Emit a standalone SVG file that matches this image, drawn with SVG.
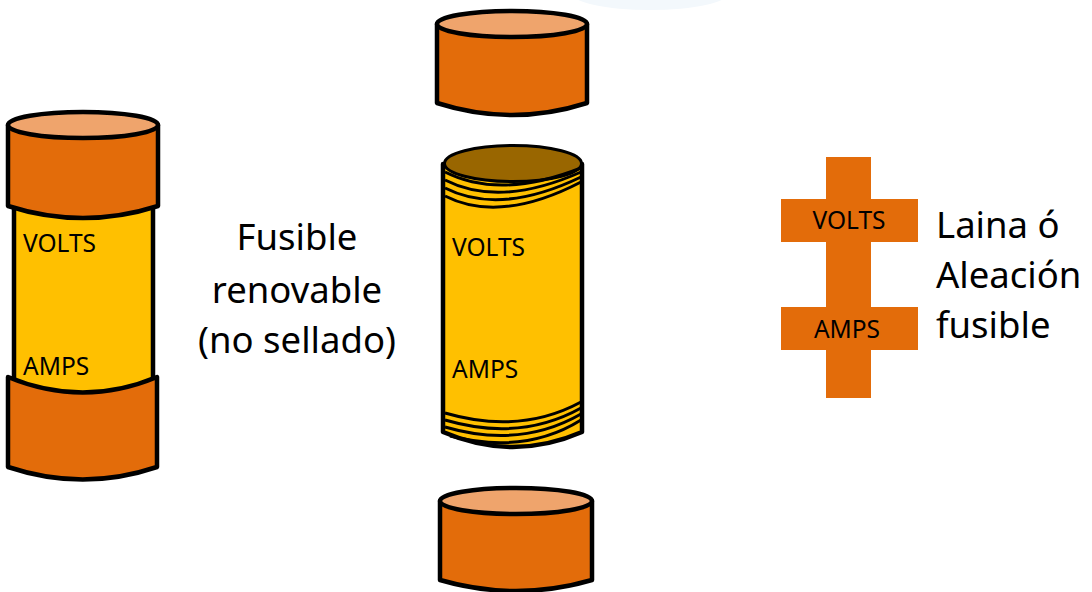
<svg xmlns="http://www.w3.org/2000/svg" width="1092" height="592" viewBox="0 0 1092 592">
  <style>
    .cap { fill: #E36C0A; stroke: #000; stroke-width: 4.5; stroke-linejoin: round; }
    .lid { fill: #EFA46C; stroke: #000; stroke-width: 4.5; }
    .body { fill: #FFC000; stroke: #000; stroke-width: 4.5; stroke-linejoin: round; }
    .dark { fill: #996600; stroke: #000; stroke-width: 3; }
    .ring { fill: none; stroke: #000; stroke-width: 3; }
    .plate { fill: #E36C0A; }
    .lbl { font-family: "Noto Sans", "Open Sans", sans-serif; font-size: 24.5px; fill: #000; }
    .big { font-family: "Noto Sans", "Open Sans", sans-serif; font-size: 36.5px; fill: #000; }
  </style>

  <!-- pale backdrop shape along the top edge -->
  <ellipse cx="650" cy="-8" rx="80" ry="18" fill="#F3F8FC"/>

  <!-- renewable fuse, assembled -->
  <g id="fuse-assembled">
    <path class="body" d="M14 206 L14 400 L153 400 L153 206 Z"/>
    <g id="fuse-assembled-top-cap">
      <path class="cap" d="M8 125 L8 206 Q83 230 158 206 L158 125 Z"/>
      <ellipse class="lid" cx="83" cy="125" rx="75" ry="13"/>
    </g>
    <g id="fuse-assembled-bottom-cap">
      <path class="cap" d="M8 377 Q83 408 157 377 L157 467 Q83 492 8 467 Z"/>
    </g>
    <text class="lbl" x="23" y="252">VOLTS</text>
    <text class="lbl" x="23" y="375">AMPS</text>
  </g>

  <!-- caption -->
  <g id="caption-fuse">
    <text class="big" x="297" y="250" text-anchor="middle">Fusible</text>
    <text class="big" x="297" y="303" text-anchor="middle">renovable</text>
    <text class="big" x="297" y="353" text-anchor="middle">(no sellado)</text>
  </g>

  <!-- exploded view: upper cap -->
  <g id="exploded-top-cap">
    <path class="cap" d="M437 24 L437 103 Q512 127 587 103 L587 24 Z"/>
    <ellipse class="lid" cx="512" cy="24" rx="75" ry="13"/>
  </g>

  <!-- exploded view: fibre tube -->
  <g id="exploded-tube">
    <path class="body" d="M443 164 L443 432 Q513 462 582 432 L582 164 Z"/>
    <ellipse class="dark" cx="513" cy="163.5" rx="68.5" ry="18"/>
    <!-- threads near the top -->
    <path class="ring" d="M445 172 Q500 200 581 168"/>
    <path class="ring" d="M445 180 Q500 208 581 172"/>
    <path class="ring" d="M445 188 Q500 216 581 177"/>
    <path class="ring" d="M445 196 Q500 224 581 182"/>
    <!-- threads near the bottom -->
    <path class="ring" d="M445 413 Q520 435 581 402"/>
    <path class="ring" d="M445 420 Q520 442 581 408"/>
    <path class="ring" d="M445 427 Q520 449 581 414"/>
    <path class="ring" d="M450 436 Q525 455 581 420"/>
    <text class="lbl" x="452" y="256">VOLTS</text>
    <text class="lbl" x="452" y="378">AMPS</text>
  </g>

  <!-- exploded view: lower cap -->
  <g id="exploded-bottom-cap">
    <path class="cap" d="M440 501 L440 580 Q516 602 592 580 L592 501 Z"/>
    <ellipse class="lid" cx="516" cy="501" rx="76" ry="13"/>
  </g>

  <!-- fusible link -->
  <g id="fuse-link">
    <rect class="plate" x="826" y="157" width="45" height="241"/>
    <rect class="plate" x="781" y="199" width="137" height="43"/>
    <rect class="plate" x="781" y="307" width="137" height="43"/>
    <text class="lbl" x="849" y="229" text-anchor="middle">VOLTS</text>
    <text class="lbl" x="847" y="338" text-anchor="middle">AMPS</text>
  </g>

  <g id="caption-link">
    <text class="big" x="936" y="238">Laina ó</text>
    <text class="big" x="936" y="288">Aleación</text>
    <text class="big" x="936" y="338">fusible</text>
  </g>
</svg>
